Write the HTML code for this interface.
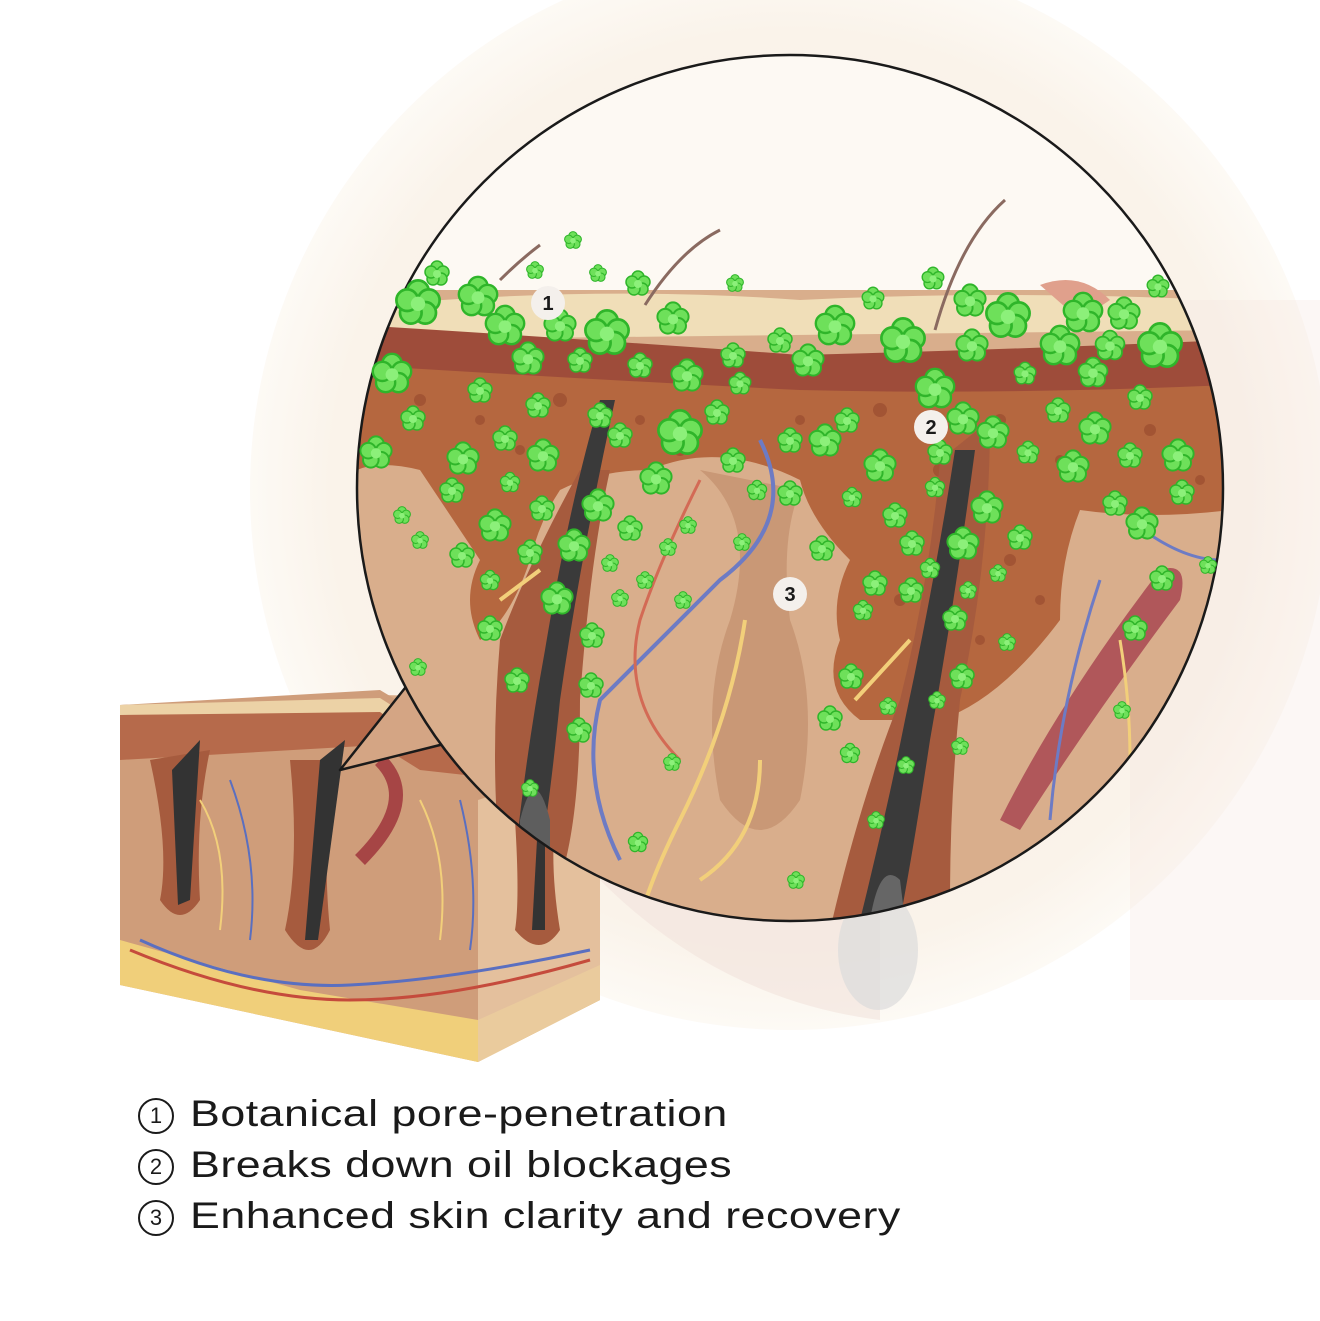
<!DOCTYPE html>
<html><head><meta charset="utf-8"><style>
html,body{margin:0;padding:0;background:#fff;}
body{width:1320px;height:1321px;position:relative;overflow:hidden;font-family:"Liberation Sans",sans-serif;}
.leg{position:absolute;left:138px;font-size:37px;color:#1a1a1a;white-space:nowrap;}
.leg span{display:inline-block;width:36px;height:36px;border:2px solid #1a1a1a;border-radius:50%;font-size:22px;text-align:center;margin-right:16px;vertical-align:3px;box-sizing:border-box;line-height:32px;}
.leg b{font-weight:normal;display:inline-block;transform:scaleX(1.21);transform-origin:left center;letter-spacing:0.4px;}
</style></head><body>
<svg width="1320" height="1321" viewBox="0 0 1320 1321" style="position:absolute;left:0;top:0">
<defs>
<radialGradient id="bg" cx="0.5" cy="0.5" r="0.5">
<stop offset="0" stop-color="#f6ece2"/><stop offset="0.85" stop-color="#faf3ea"/><stop offset="1" stop-color="#fdfaf5"/>
</radialGradient>
<clipPath id="cc"><circle cx="790" cy="488" r="433"/></clipPath>
<g id="cl">
<circle cx="0" cy="-6" r="6" fill="#6ee05a" stroke="#2fb52a" stroke-width="1.5"/>
<circle cx="6" cy="-1" r="6" fill="#6ee05a" stroke="#2fb52a" stroke-width="1.5"/>
<circle cx="4" cy="6" r="6" fill="#6ee05a" stroke="#2fb52a" stroke-width="1.5"/>
<circle cx="-4" cy="6" r="6" fill="#6ee05a" stroke="#2fb52a" stroke-width="1.5"/>
<circle cx="-6" cy="-1" r="6" fill="#6ee05a" stroke="#2fb52a" stroke-width="1.5"/>
<circle cx="0" cy="1" r="4" fill="#8cf07a"/>
</g>
</defs>
<circle cx="790" cy="490" r="540" fill="url(#bg)"/>
<rect x="1130" y="300" width="190" height="700" fill="#f5e6de" opacity="0.3"/>
<path d="M600 880 Q720 1000 880 1020 L880 900 Z" fill="#f2e2dc" opacity="0.6"/>
<ellipse cx="878" cy="950" rx="40" ry="60" fill="#dcdcdc" opacity="0.7"/>

<g>
<polygon points="120,705 380,695 600,700 600,1000 478,1062 120,985" fill="#d9aa86"/>
<polygon points="120,705 380,690 430,720 600,735 600,990 478,1050 120,980" fill="#cf9d7a"/>
<polygon points="120,705 380,698 430,730 600,745 600,760 430,745 380,715 120,720" fill="#ecd2a6"/>
<polygon points="120,715 380,712 420,740 600,760 600,790 420,770 380,745 120,760" fill="#b66a4b"/>
<polygon points="120,940 300,990 478,1020 600,965 600,1000 478,1062 120,985" fill="#f0cf7a"/>
<polygon points="478,800 600,760 600,1000 478,1062" fill="#e8c9a6" opacity="0.8"/>
<path d="M150 760 Q170 850 160 900 Q180 930 200 900 Q195 820 210 750 Z" fill="#a65b3e"/>
<path d="M172 770 L200 740 L190 900 L178 905 Z" fill="#333"/>
<path d="M290 760 Q300 860 285 930 Q310 970 330 930 Q320 830 340 760 Z" fill="#a65b3e"/>
<path d="M320 760 L345 740 L318 940 L305 940 Z" fill="#333"/>
<path d="M515 820 Q520 900 515 930 Q540 960 560 930 Q550 870 555 820 Z" fill="#a65b3e"/>
<path d="M537 840 L545 840 L545 930 L532 930 Z" fill="#333"/>
<path d="M130 950 Q250 1000 350 1000 Q450 1000 590 960" stroke="#c54b3c" stroke-width="3" fill="none"/>
<path d="M140 940 Q250 990 350 985 Q450 980 590 950" stroke="#5a6fc0" stroke-width="3" fill="none"/>
<path d="M380 760 Q420 800 360 860" stroke="#a64545" stroke-width="14" fill="none"/>
<path d="M200 800 Q230 850 220 930 M420 800 Q450 860 440 940" stroke="#f2cf7a" stroke-width="2" fill="none"/>
<path d="M230 780 Q260 860 250 940 M460 800 Q480 880 470 950" stroke="#5a6fc0" stroke-width="2" fill="none"/>
</g>

<polygon points="405,688 340,770 440,745 470,700" fill="#d4a584" stroke="#1a1a1a" stroke-width="2.5" stroke-linejoin="round"/>

<g clip-path="url(#cc)">
<rect x="350" y="50" width="880" height="880" fill="#d9ae8c"/>
<rect x="350" y="50" width="880" height="240" fill="#fdf9f3"/>
<path d="M357 320 L380 305 Q600 285 800 300 Q1000 290 1220 300 L1230 330 L357 340 Z" fill="#f0deb8"/>
<path d="M1040 285 Q1080 270 1110 300 L1080 320 Z" fill="#e0a08c"/>
<path d="M357 325 Q600 340 800 355 Q1000 350 1230 340 L1230 390 Q1000 400 800 395 Q600 380 357 370 Z" fill="#9e4c3a"/>
<path d="M357 365 Q600 380 800 390 Q1000 395 1230 385 L1230 510 Q1150 520 1080 510 Q1060 560 1060 620 Q1000 700 940 720 L860 720 Q820 690 840 640 Q830 600 850 560 Q810 520 800 480 Q720 440 650 470 Q600 470 560 490 Q540 520 530 560 Q510 620 480 640 Q460 600 480 560 Q440 500 420 470 Q380 460 357 470 Z" fill="#b5673f"/>
<g fill="#9a4d30" opacity="0.7">
<circle cx="420" cy="400" r="6"/><circle cx="480" cy="420" r="5"/><circle cx="560" cy="400" r="7"/><circle cx="640" cy="420" r="5"/><circle cx="720" cy="410" r="6"/><circle cx="800" cy="420" r="5"/><circle cx="880" cy="410" r="7"/><circle cx="1000" cy="420" r="6"/><circle cx="1060" cy="460" r="5"/><circle cx="1150" cy="430" r="6"/><circle cx="1200" cy="480" r="5"/><circle cx="1010" cy="560" r="6"/><circle cx="980" cy="640" r="5"/><circle cx="900" cy="600" r="6"/><circle cx="520" cy="450" r="5"/><circle cx="680" cy="450" r="6"/><circle cx="940" cy="470" r="7"/><circle cx="1040" cy="600" r="5"/>
</g>
<path d="M700 470 Q760 520 730 620 Q700 700 720 800 Q760 860 800 800 Q820 700 790 620 Q780 540 800 490 Z" fill="#c99876"/>
<path d="M500 640 Q530 560 580 470 L610 470 Q590 560 580 700 Q580 820 560 880 Q520 900 500 860 Q490 760 500 640 Z" fill="#a65b3e"/>
<path d="M600 400 L615 400 Q580 560 560 700 Q550 800 540 860 L515 860 Q525 760 545 650 Q570 500 600 400 Z" fill="#3a3a3a"/>
<path d="M520 820 Q535 760 550 820 L550 900 L520 900 Z" fill="#5e5e5e"/>
<path d="M940 460 L990 420 Q990 560 960 700 Q950 800 950 900 L830 930 Q860 800 900 700 Q930 580 940 460 Z" fill="#a65b3e"/>
<path d="M955 450 L975 450 Q955 600 930 740 Q915 840 900 920 L860 920 Q885 820 905 720 Q935 580 955 450 Z" fill="#3a3a3a"/>
<path d="M870 920 Q880 860 900 880 L905 920 Z" fill="#666"/>
<path d="M1000 820 Q1060 700 1160 570 Q1190 560 1180 600 Q1090 720 1020 830 Z" fill="#b0575a"/>
<path d="M760 440 Q800 520 720 580 Q660 640 600 700 Q580 780 620 860" stroke="#6d7bc4" stroke-width="4" fill="none"/>
<path d="M700 480 Q660 560 640 620 Q620 700 680 760" stroke="#d36a55" stroke-width="3" fill="none"/>
<path d="M1130 520 Q1180 560 1220 560 M1100 580 Q1060 700 1050 820" stroke="#6d7bc4" stroke-width="3" fill="none"/>
<path d="M745 620 Q730 720 680 820 Q650 880 640 920" stroke="#f2cf7a" stroke-width="4" fill="none"/>
<path d="M760 760 Q760 840 700 880" stroke="#f2cf7a" stroke-width="4" fill="none"/>
<path d="M500 600 L540 570 M855 700 L910 640" stroke="#f2cf7a" stroke-width="4" fill="none"/>
<path d="M1120 640 Q1130 700 1130 760" stroke="#f2cf7a" stroke-width="3" fill="none"/>
<path d="M935 330 Q960 240 1005 200 M645 305 Q680 250 720 230 M500 280 Q520 260 540 245" stroke="#8a6a60" stroke-width="3" fill="none"/>
</g>
<circle cx="790" cy="488" r="433" fill="none" stroke="#1a1a1a" stroke-width="2.5"/>

<g>
<use href="#cl" transform="translate(418,302) scale(1.8)"/><use href="#cl" transform="translate(478,296) scale(1.6)"/><use href="#cl" transform="translate(505,325) scale(1.6)"/><use href="#cl" transform="translate(437,273) scale(1)"/><use href="#cl" transform="translate(573,240) scale(0.7)"/><use href="#cl" transform="translate(598,273) scale(0.7)"/><use href="#cl" transform="translate(535,270) scale(0.7)"/>
<use href="#cl" transform="translate(560,325) scale(1.3)"/><use href="#cl" transform="translate(607,332) scale(1.8)"/><use href="#cl" transform="translate(638,283) scale(1)"/><use href="#cl" transform="translate(673,318) scale(1.3)"/><use href="#cl" transform="translate(735,283) scale(0.7)"/><use href="#cl" transform="translate(780,340) scale(1)"/><use href="#cl" transform="translate(835,325) scale(1.6)"/><use href="#cl" transform="translate(808,360) scale(1.3)"/><use href="#cl" transform="translate(873,298) scale(0.9)"/><use href="#cl" transform="translate(903,340) scale(1.8)"/><use href="#cl" transform="translate(933,278) scale(0.9)"/><use href="#cl" transform="translate(970,300) scale(1.3)"/><use href="#cl" transform="translate(1008,315) scale(1.8)"/><use href="#cl" transform="translate(972,345) scale(1.3)"/><use href="#cl" transform="translate(1060,345) scale(1.6)"/><use href="#cl" transform="translate(1083,312) scale(1.6)"/><use href="#cl" transform="translate(1124,313) scale(1.3)"/><use href="#cl" transform="translate(1160,345) scale(1.8)"/><use href="#cl" transform="translate(1158,286) scale(0.9)"/><use href="#cl" transform="translate(1110,345) scale(1.2)"/><use href="#cl" transform="translate(1093,372) scale(1.2)"/>
<use href="#cl" transform="translate(392,373) scale(1.6)"/><use href="#cl" transform="translate(528,358) scale(1.3)"/><use href="#cl" transform="translate(580,360) scale(1)"/><use href="#cl" transform="translate(640,365) scale(1)"/><use href="#cl" transform="translate(687,375) scale(1.3)"/><use href="#cl" transform="translate(733,355) scale(1)"/><use href="#cl" transform="translate(740,383) scale(0.9)"/><use href="#cl" transform="translate(935,388) scale(1.6)"/><use href="#cl" transform="translate(1025,373) scale(0.9)"/><use href="#cl" transform="translate(1140,397) scale(1)"/>
<use href="#cl" transform="translate(413,418) scale(1)"/><use href="#cl" transform="translate(480,390) scale(1)"/><use href="#cl" transform="translate(538,405) scale(1)"/><use href="#cl" transform="translate(376,452) scale(1.3)"/><use href="#cl" transform="translate(463,458) scale(1.3)"/><use href="#cl" transform="translate(505,438) scale(1)"/><use href="#cl" transform="translate(543,455) scale(1.3)"/><use href="#cl" transform="translate(600,415) scale(1)"/><use href="#cl" transform="translate(620,435) scale(1)"/><use href="#cl" transform="translate(680,432) scale(1.8)"/><use href="#cl" transform="translate(717,412) scale(1)"/><use href="#cl" transform="translate(656,478) scale(1.3)"/><use href="#cl" transform="translate(733,460) scale(1)"/><use href="#cl" transform="translate(790,440) scale(1)"/><use href="#cl" transform="translate(825,440) scale(1.3)"/><use href="#cl" transform="translate(847,420) scale(1)"/><use href="#cl" transform="translate(880,465) scale(1.3)"/><use href="#cl" transform="translate(963,418) scale(1.3)"/><use href="#cl" transform="translate(993,432) scale(1.3)"/><use href="#cl" transform="translate(1058,410) scale(1)"/><use href="#cl" transform="translate(1095,428) scale(1.3)"/><use href="#cl" transform="translate(1073,466) scale(1.3)"/><use href="#cl" transform="translate(1130,455) scale(1)"/><use href="#cl" transform="translate(1178,455) scale(1.3)"/><use href="#cl" transform="translate(1028,452) scale(0.9)"/><use href="#cl" transform="translate(940,452) scale(1)"/>
<use href="#cl" transform="translate(452,490) scale(1)"/><use href="#cl" transform="translate(510,482) scale(0.8)"/><use href="#cl" transform="translate(598,505) scale(1.3)"/><use href="#cl" transform="translate(495,525) scale(1.3)"/><use href="#cl" transform="translate(542,508) scale(1)"/><use href="#cl" transform="translate(630,528) scale(1)"/><use href="#cl" transform="translate(402,515) scale(0.7)"/><use href="#cl" transform="translate(420,540) scale(0.7)"/><use href="#cl" transform="translate(462,555) scale(1)"/><use href="#cl" transform="translate(530,552) scale(1)"/><use href="#cl" transform="translate(574,545) scale(1.3)"/><use href="#cl" transform="translate(757,490) scale(0.8)"/><use href="#cl" transform="translate(790,493) scale(1)"/><use href="#cl" transform="translate(852,497) scale(0.8)"/><use href="#cl" transform="translate(895,515) scale(1)"/><use href="#cl" transform="translate(935,487) scale(0.8)"/><use href="#cl" transform="translate(987,507) scale(1.3)"/><use href="#cl" transform="translate(963,543) scale(1.3)"/><use href="#cl" transform="translate(912,543) scale(1)"/><use href="#cl" transform="translate(1020,537) scale(1)"/><use href="#cl" transform="translate(1115,503) scale(1)"/><use href="#cl" transform="translate(1142,523) scale(1.3)"/><use href="#cl" transform="translate(1182,492) scale(1)"/>
<use href="#cl" transform="translate(822,548) scale(1)"/><use href="#cl" transform="translate(742,542) scale(0.7)"/><use href="#cl" transform="translate(688,525) scale(0.7)"/><use href="#cl" transform="translate(668,547) scale(0.7)"/><use href="#cl" transform="translate(610,563) scale(0.7)"/><use href="#cl" transform="translate(490,580) scale(0.8)"/><use href="#cl" transform="translate(557,598) scale(1.3)"/><use href="#cl" transform="translate(620,598) scale(0.7)"/><use href="#cl" transform="translate(645,580) scale(0.7)"/><use href="#cl" transform="translate(683,600) scale(0.7)"/><use href="#cl" transform="translate(490,628) scale(1)"/><use href="#cl" transform="translate(592,635) scale(1)"/><use href="#cl" transform="translate(930,568) scale(0.8)"/><use href="#cl" transform="translate(875,583) scale(1)"/><use href="#cl" transform="translate(911,590) scale(1)"/><use href="#cl" transform="translate(968,590) scale(0.7)"/><use href="#cl" transform="translate(998,573) scale(0.7)"/><use href="#cl" transform="translate(863,610) scale(0.8)"/><use href="#cl" transform="translate(955,618) scale(1)"/><use href="#cl" transform="translate(1007,642) scale(0.7)"/><use href="#cl" transform="translate(1162,578) scale(1)"/><use href="#cl" transform="translate(1135,628) scale(1)"/><use href="#cl" transform="translate(1208,565) scale(0.7)"/>
<use href="#cl" transform="translate(418,667) scale(0.7)"/><use href="#cl" transform="translate(517,680) scale(1)"/><use href="#cl" transform="translate(591,685) scale(1)"/><use href="#cl" transform="translate(851,676) scale(1)"/><use href="#cl" transform="translate(962,676) scale(1)"/><use href="#cl" transform="translate(937,700) scale(0.7)"/><use href="#cl" transform="translate(888,706) scale(0.7)"/><use href="#cl" transform="translate(830,718) scale(1)"/><use href="#cl" transform="translate(1122,710) scale(0.7)"/><use href="#cl" transform="translate(579,730) scale(1)"/><use href="#cl" transform="translate(850,753) scale(0.8)"/><use href="#cl" transform="translate(960,746) scale(0.7)"/><use href="#cl" transform="translate(672,762) scale(0.7)"/><use href="#cl" transform="translate(906,765) scale(0.7)"/><use href="#cl" transform="translate(530,788) scale(0.7)"/><use href="#cl" transform="translate(876,820) scale(0.7)"/><use href="#cl" transform="translate(638,842) scale(0.8)"/><use href="#cl" transform="translate(796,880) scale(0.7)"/>
</g>

<g font-family="Liberation Sans,sans-serif" font-weight="bold" font-size="20" text-anchor="middle" fill="#1a1a1a">
<circle cx="548" cy="303" r="17" fill="#f4f0ec"/><text x="548" y="310">1</text>
<circle cx="931" cy="427" r="17" fill="#f4f0ec"/><text x="931" y="434">2</text>
<circle cx="790" cy="594" r="17" fill="#f4f0ec"/><text x="790" y="601">3</text>
</g>
</svg>
<div class="leg" style="top:1093px"><span>1</span><b>Botanical pore-penetration</b></div>
<div class="leg" style="top:1144px"><span>2</span><b>Breaks down oil blockages</b></div>
<div class="leg" style="top:1195px"><span>3</span><b>Enhanced skin clarity and recovery</b></div>
</body></html>
